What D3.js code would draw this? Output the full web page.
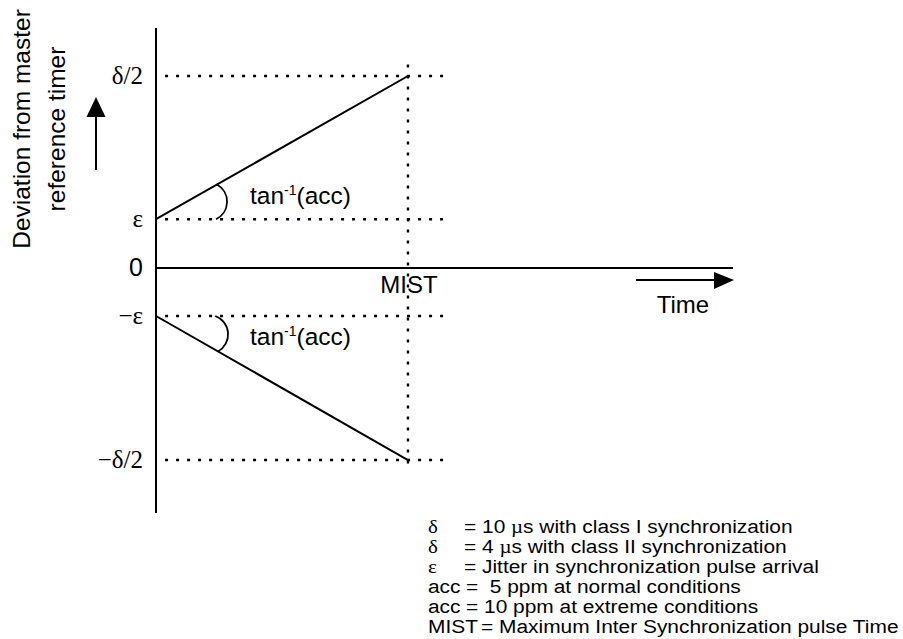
<!DOCTYPE html>
<html>
<head>
<meta charset="utf-8">
<script src="https://cdn.jsdelivr.net/npm/d3@7"></script>
<style>
  html, body { margin: 0; padding: 0; background: #fff; }
  svg { display: block; }
</style>
</head>
<body>
<script>
// ---------- data ----------
// deviation levels (µs, class I: δ = 10 µs, ε = jitter estimate)
const levelNames  = ["δ/2", "ε", "0", "−ε", "−δ/2"];
const levelValues = [5, 1.27, 0, -1.25, -5];
// time: 0 .. MIST (normalized)
const MIST = 1;
const upperLine = [[0, 1.27], [MIST, 5]];
const lowerLine = [[0, -1.25], [MIST, -5]];
const legendSymbols = ["δ", "δ", "ε", "acc", "acc", "MIST"];
const legendTexts = [
  "= 10 µs with class I synchronization",
  "= 4 µs with class II synchronization",
  "= Jitter in synchronization pulse arrival",
  "=  5 ppm at normal conditions",
  "= 10 ppm at extreme conditions",
  "= Maximum Inter Synchronization pulse Time"
];
const yTitle = ["Deviation from master", "reference timer"];
const xTitle = "Time";
const angleLabel = ["tan", "-1", "(acc)"];

// ---------- layout ----------
const W = 903, H = 639;
const sans = "'Liberation Sans', Arial, sans-serif";
const serif = "'Liberation Serif', 'Times New Roman', serif";

const svg = d3.select("body").append("svg").attr("width", W).attr("height", H);

const x = d3.scaleLinear().domain([0, 2.29]).range([156, 733]);
const y = d3.scaleLinear().domain([-6.38, 6.25]).range([513, 28]);

const g = svg.append("g");

// y axis line
g.append("line").attr("x1", x(0)).attr("x2", x(0)).attr("y1", y(6.25)).attr("y2", y(-6.38))
  .attr("stroke", "#000").attr("stroke-width", 2);
// zero line
g.append("line").attr("x1", x(0)).attr("x2", x(2.29)).attr("y1", y(0)).attr("y2", y(0))
  .attr("stroke", "#000").attr("stroke-width", 2);

// dotted guides
const dash = "3,8";
levelValues.forEach((v, i) => {
  if (v === 0) return;
  g.append("line").attr("x1", x(0.036)).attr("x2", x(1.16)).attr("y1", y(v)).attr("y2", y(v))
    .attr("stroke", "#000").attr("stroke-width", 2.4).attr("stroke-dasharray", dash);
});
g.append("line").attr("x1", x(MIST)).attr("x2", x(MIST)).attr("y1", y(5.3)).attr("y2", y(-5.3))
  .attr("stroke", "#000").attr("stroke-width", 2.4).attr("stroke-dasharray", dash);

// slope lines
const line = d3.line().x(d => x(d[0])).y(d => y(d[1]));
[upperLine, lowerLine].forEach(d => {
  g.append("path").attr("d", line(d)).attr("fill", "none").attr("stroke", "#000").attr("stroke-width", 2);
});

// angle arcs
function lerp(l, t) { return [l[0][0] + (l[1][0] - l[0][0]) * t, l[0][1] + (l[1][1] - l[0][1]) * t]; }
const upA = lerp(upperLine, 0.242), upB = [0.238, upperLine[0][1]];
g.append("path").attr("d", `M${x(upA[0])},${y(upA[1])} A19.5,19.5 0 0 1 ${x(upB[0])},${y(upB[1])}`)
  .attr("fill", "none").attr("stroke", "#000").attr("stroke-width", 1.8);
const loA = [0.235, lowerLine[0][1]], loB = lerp(lowerLine, 0.246);
g.append("path").attr("d", `M${x(loA[0])},${y(loA[1])} A19.5,19.5 0 0 1 ${x(loB[0])},${y(loB[1])}`)
  .attr("fill", "none").attr("stroke", "#000").attr("stroke-width", 1.8);

// angle labels
function angleText(px, py) {
  const t = g.append("text").attr("x", px).attr("y", py).attr("font-family", sans).attr("font-size", 24.5).attr("fill", "#000");
  t.append("tspan").text(angleLabel[0]);
  t.append("tspan").attr("font-size", 14).attr("dy", -9).text(angleLabel[1]);
  t.append("tspan").attr("dy", 9).text(angleLabel[2]);
}
angleText(250, 204);
angleText(250, 345);

// y tick labels
levelNames.forEach((n, i) => {
  g.append("text").attr("x", 143).attr("y", y(levelValues[i])).attr("dy", "0.33em")
    .attr("text-anchor", "end").attr("font-family", n === "0" ? sans : serif)
    .attr("font-size", 25).attr("fill", "#000").text(n);
});

// MIST label
g.append("text").attr("x", x(MIST) + 1).attr("y", 293).attr("text-anchor", "middle")
  .attr("font-family", sans).attr("font-size", 24).text("MIST");

// Time arrow
g.append("line").attr("x1", 636).attr("x2", 716).attr("y1", 280).attr("y2", 280).attr("stroke", "#000").attr("stroke-width", 2);
g.append("path").attr("d", "M714,272 L734,280 L714,289 Z").attr("fill", "#000");
g.append("text").attr("x", 683).attr("y", 313).attr("text-anchor", "middle")
  .attr("font-family", sans).attr("font-size", 24).text(xTitle);

// Y title + up arrow
yTitle.forEach((t, i) => {
  g.append("text").attr("transform", `translate(${30 + i * 35},129) rotate(-90)`)
    .attr("text-anchor", "middle").attr("font-family", sans).attr("font-size", 24.5).text(t);
});
g.append("line").attr("x1", 96).attr("x2", 96).attr("y1", 170).attr("y2", 112).attr("stroke", "#000").attr("stroke-width", 2);
g.append("path").attr("d", "M86.5,117 L96,97 L105.5,117 Z").attr("fill", "#000");

// legend (text is slightly stretched horizontally in the reference)
const sx = 1.1;
legendSymbols.forEach((s, i) => {
  const yy = 533 + i * 20;
  const isGreek = s === "δ" || s === "ε";
  g.append("text").attr("transform", `translate(428,${yy}) scale(${sx},1)`)
    .attr("font-family", isGreek ? serif : sans)
    .attr("font-size", 19).text(s);
  const tx = s === "MIST" ? 481 : (s === "acc" ? 466 : 464);
  const t = g.append("text").attr("transform", `translate(${tx},${yy}) scale(${sx},1)`)
    .attr("font-family", sans).attr("font-size", 19).attr("xml:space", "preserve");
  const parts = legendTexts[i].split("µ");
  t.append("tspan").text(parts[0]);
  if (parts.length > 1) {
    t.append("tspan").attr("font-family", serif).attr("font-size", 19).text("µ");
    t.append("tspan").text(parts[1]);
  }
});
</script>
</body>
</html>
